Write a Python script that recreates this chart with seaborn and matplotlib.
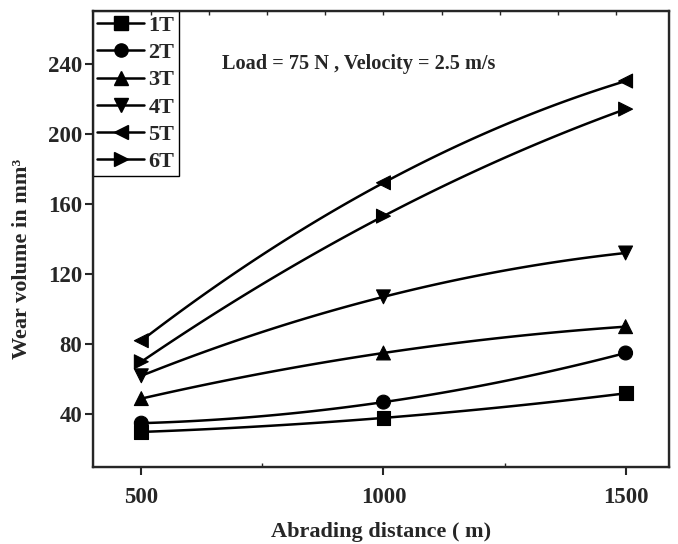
import numpy as np
import pandas as pd
import matplotlib
matplotlib.use("Agg")
import matplotlib.pyplot as plt
from matplotlib.lines import Line2D
import seaborn as sns

# abrading distance (m)
distance = [500, 1000, 1500]

# wear volume (mm3) for each sample
t1 = [30, 38, 52]
t2 = [35, 47, 75]
t3 = [49, 75, 90]
t4 = [62, 107, 132]
t5 = [82, 172, 230]
t6 = [70, 153, 214]

names = ["1T", "2T", "3T", "4T", "5T", "6T"]
series = [t1, t2, t3, t4, t5, t6]
marks = ["s", "o", "^", "v", "<", ">"]

sns.set_style("ticks")
plt.rcParams["font.family"] = ["Liberation Serif", "DejaVu Serif"]
plt.rcParams["font.weight"] = "bold"

rows = []
for n, s in zip(names, series):
    for d, v in zip(distance, s):
        rows.append({"distance": d, "wear": v, "sample": n})
df = pd.DataFrame(rows)

fig = plt.figure(figsize=(6.78, 5.44), dpi=100)
ax = fig.add_axes([0.137, 0.1415, 0.850, 0.8385])

# smooth connecting curves (quadratic through the 3 points, like Origin spline)
for n, s in zip(names, series):
    xs = np.linspace(distance[0], distance[-1], 120)
    ys = np.polyval(np.polyfit(distance, s, 2), xs)
    sns.lineplot(x=xs, y=ys, color="black", linewidth=1.8, ax=ax)

sns.scatterplot(data=df, x="distance", y="wear", style="sample",
                markers=dict(zip(names, marks)), color="black",
                edgecolor="black", s=100, legend=False, ax=ax, zorder=3)

ax.set_xlim(400, 1590)
ax.set_ylim(10, 270)
ax.set_xticks(distance)
ax.set_xticks([750, 1250], minor=True)
ax.set_yticks([40, 80, 120, 160, 200, 240])
ax.tick_params(axis="both", which="major", direction="out", length=5.5,
               width=1.5, labelsize=16.5)
ax.tick_params(axis="x", which="major", pad=9)
ax.tick_params(axis="y", which="major", pad=2)
ax.tick_params(axis="x", which="minor", direction="in", length=3, width=1)
for lab in ax.get_xticklabels() + ax.get_yticklabels():
    lab.set_fontweight("bold")
for sp in ax.spines.values():
    sp.set_visible(True)
    sp.set_linewidth(1.7)

top = ax.twiny()
top.set_xlim(ax.get_xlim())
top.set_xticks([520, 640, 760, 880, 1000, 1120, 1240, 1360, 1480])
top.tick_params(axis="x", direction="in", length=3, width=1, labeltop=False)

ax.set_xlabel("Abrading distance ( m)", fontsize=16, fontweight="bold",
              labelpad=10)
ax.set_ylabel("Wear volume in mm\u00b3", fontsize=16, fontweight="bold")
ax.yaxis.set_label_coords(-0.105, 0.456)

ax.text(0.224, 0.884, "Load = 75 N , Velocity = 2.5 m/s", transform=ax.transAxes,
        fontsize=14.6, fontweight="bold", va="center", ha="left")

handles = [Line2D([], [], color="black", marker=m, markersize=9.5, linewidth=1.8)
           for m in marks]
leg = ax.legend(handles, names, loc="upper left", borderaxespad=0,
                handlelength=2.1, handletextpad=0.2, labelspacing=0.3,
                borderpad=0.2, fancybox=False, framealpha=1,
                prop={"size": 16, "weight": "bold"})
leg.get_frame().set_edgecolor("black")
leg.get_frame().set_linewidth(1.0)

fig.savefig("out.png", dpi=100)
